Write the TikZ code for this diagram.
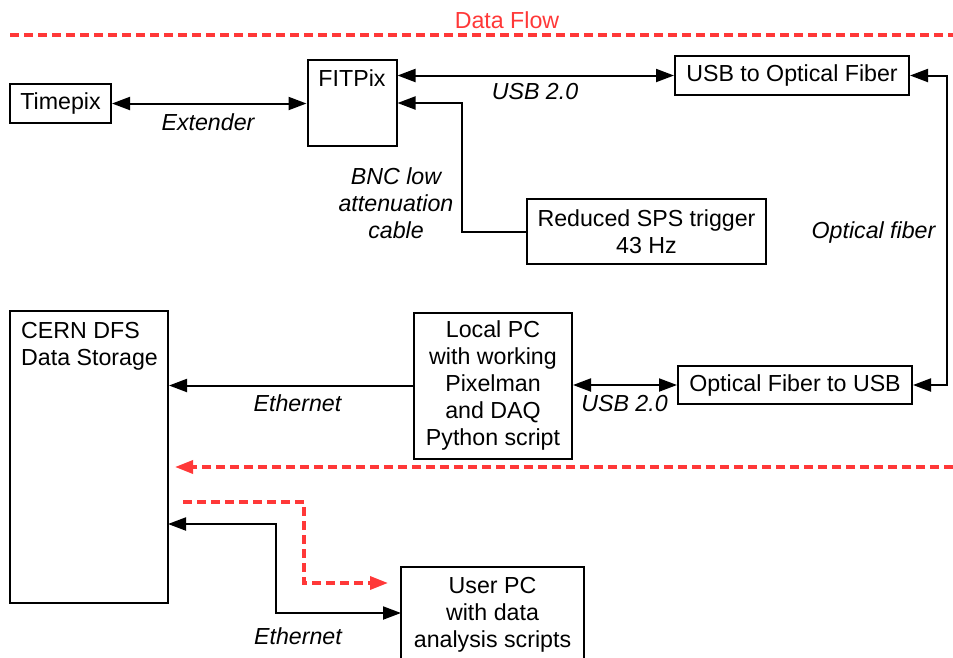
\documentclass[tikz,border=0pt]{standalone}
\usepackage{fontspec}
\setmainfont{Liberation Sans}
\usetikzlibrary{arrows.meta}
\definecolor{flowred}{RGB}{255,56,56}
\newcommand{\diagfont}{\fontsize{23.2}{27}\selectfont}

\begin{document}
\begin{tikzpicture}[x=1pt, y=-1pt, >={Triangle[length=18pt,width=13pt]}, font=\diagfont,
  blk/.style={draw, line width=2pt, inner sep=0pt, align=center},
  wire/.style={line width=2pt},
  lbl/.style={font=\diagfont\itshape, anchor=base, align=center},
  flow/.style={flowred, line width=3.4pt, dash pattern=on 9pt off 5pt}]
  \useasboundingbox (0,0) rectangle (953,657);
  \clip (0,0) rectangle (953,657);

  \node[blk, minimum width=101pt, minimum height=39pt] (timepix) at (60.5,103.5) {Timepix};
  \node[blk, minimum width=89pt, minimum height=86pt,
        label={[anchor=base, yshift=-27pt]north:FITPix}] (fitpix) at (352,103) {};
  \node[blk, minimum width=234pt, minimum height=39pt] (usbof) at (792,75.5) {USB to Optical Fiber};
  \node[blk, minimum width=239pt, minimum height=65pt] (sps) at (646.5,231.5) {Reduced SPS trigger\\43 Hz};
  \node[blk, minimum width=234pt, minimum height=38pt] (ofusb) at (795,385) {Optical Fiber to USB};
  \node[blk, minimum width=158pt, minimum height=146pt] (localpc) at (493,385.5)
        {Local PC\\with working\\Pixelman\\and DAQ\\Python script};
  \node[blk, minimum width=158pt, minimum height=292pt,
        label={[anchor=north west, inner sep=0pt, xshift=12pt, yshift=-12pt, align=left]north west:CERN DFS\\Data Storage}]
        (dfs) at (89,457) {};
  \node[blk, minimum width=183pt, minimum height=113pt,
        label={[anchor=base, yshift=-81pt, align=center]north:User PC\\with data\\analysis scripts}]
        (userpc) at (492.5,623.5) {};

  \draw[wire, <->] (timepix.east) -- (fitpix.west |- timepix.east);
  \draw[wire, <->] (fitpix.east |- usbof.west) -- (usbof.west);
  \coordinate (bnc) at (462,103);
  \draw[wire, ->] (sps.west) -| (bnc) -- (fitpix.east);
  \draw[wire, <->] (usbof.east) -- ++(37,0) |- (ofusb.east);
  \draw[wire, <->] (localpc.east |- ofusb.west) -- (ofusb.west);
  \draw[wire, ->] (localpc.west) -- (dfs.east |- localpc.west);
  \coordinate (dfsin) at (168,524);
  \coordinate (userin) at (401,613);
  \draw[wire, <->] (dfsin) -| (276,613) -- (userin);

  \node[lbl] (extlbl) at (208,130) {Extender};
  \node[lbl] (usblbl1) at (535,99) {USB 2.0};
  \node[lbl, anchor=center] (bnclbl) at (396,203) {BNC low\\attenuation\\cable};
  \node[lbl] (oflbl) at (873.5,238) {Optical fiber};
  \node[lbl] (usblbl2) at (624.5,411.5) {USB 2.0};
  \node[lbl] (ethlbl1) at (297.5,411.5) {Ethernet};
  \node[lbl] (ethlbl2) at (298,644) {Ethernet};

  \node[anchor=base, text=flowred] (flowlbl) at (507,28) {Data Flow};
  \draw[flow] (10,35) -- (953,35);
  \draw[flow, ->] (953,467) -- (175,467);
  \draw[flow, ->] (183,502) -| (304,583) -- (388,583);
\end{tikzpicture}
\end{document}
